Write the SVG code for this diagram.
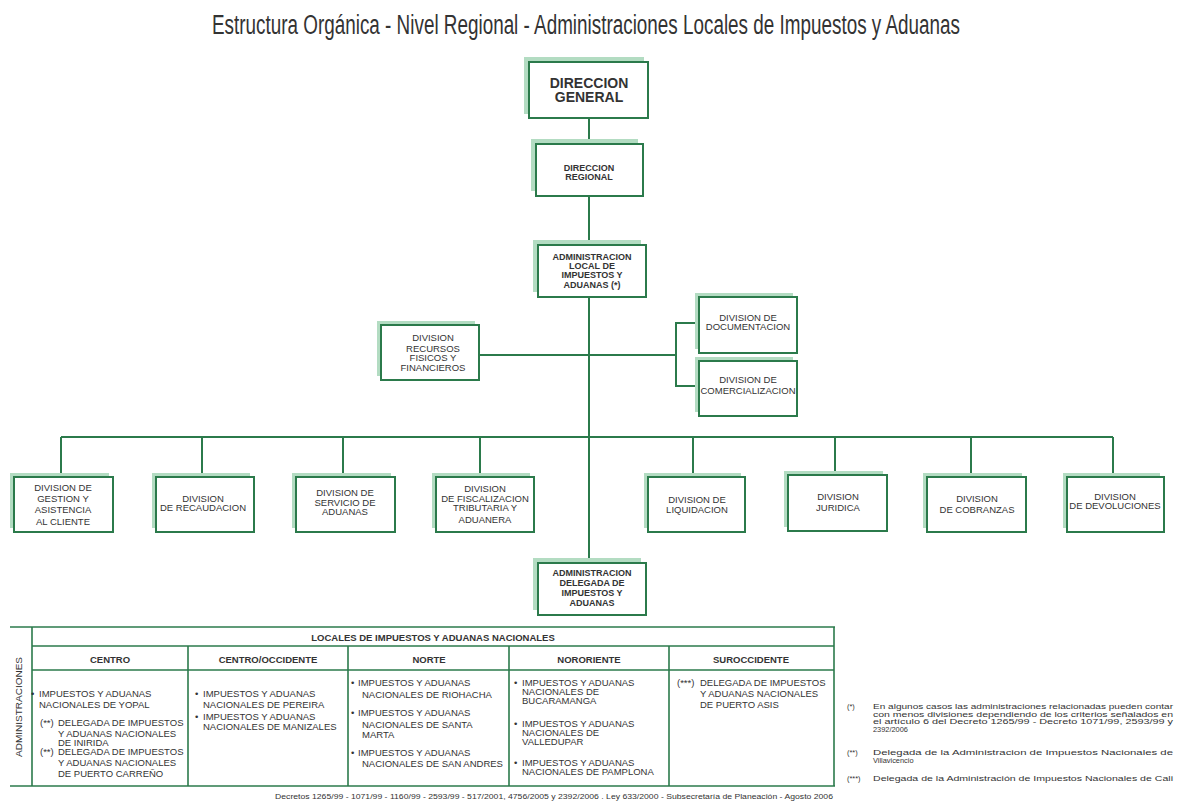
<svg xmlns="http://www.w3.org/2000/svg" width="1178" height="802" viewBox="0 0 1178 802">
<style>
.bg{fill:#ffffff}
.sh{fill:#b3dcc2}
.bx{fill:#ffffff;stroke:#2b7a4b;stroke-width:2}
.ln{stroke:#2b7a4b;stroke-width:2;fill:none}
.lt{stroke:#2b7a4b;stroke-width:1.6;fill:none}
.t{font-family:"Liberation Sans",Arial,sans-serif;fill:#333;text-anchor:middle}
.nb{font-size:9px;font-weight:bold}
.nr{font-size:9.5px}
.tb{font-family:"Liberation Sans",Arial,sans-serif;fill:#333;font-size:9.5px}
.hd{font-family:"Liberation Sans",Arial,sans-serif;fill:#333;font-size:9.5px;font-weight:bold;text-anchor:middle}
.vt{font-family:"Liberation Sans",Arial,sans-serif;fill:#333;font-size:8.5px;text-anchor:middle}
.fn{font-family:"Liberation Sans",Arial,sans-serif;fill:#333;font-size:7.4px}
.ft{font-family:"Liberation Sans",Arial,sans-serif;fill:#333;font-size:7px}
</style>
<rect class="bg" x="0" y="0" width="1178" height="802"/>
<text transform="translate(586,34) scale(0.68,1)" x="0" y="0" font-family="'Liberation Sans',Arial,sans-serif" font-size="27" fill="#333" text-anchor="middle" textLength="1100" lengthAdjust="spacingAndGlyphs">Estructura Orgánica - Nivel Regional - Administraciones Locales de Impuestos y Aduanas</text>

<g id="connectors">
<line class="ln" x1="589" y1="118" x2="589" y2="144"/>
<line class="ln" x1="589" y1="196" x2="589" y2="245"/>
<line class="ln" x1="589" y1="297" x2="589" y2="563"/>
<line class="ln" x1="479" y1="355" x2="676" y2="355"/>
<polyline class="ln" points="699,323 676,323 676,386 699,386"/>
<line class="ln" x1="61" y1="437" x2="1113" y2="437"/>
<line class="ln" x1="61" y1="437" x2="61" y2="477"/>
<line class="ln" x1="202" y1="437" x2="202" y2="477"/>
<line class="ln" x1="343" y1="437" x2="343" y2="477"/>
<line class="ln" x1="480" y1="437" x2="480" y2="477"/>
<line class="ln" x1="693" y1="437" x2="693" y2="477"/>
<line class="ln" x1="835" y1="437" x2="835" y2="475"/>
<line class="ln" x1="971" y1="437" x2="971" y2="477"/>
<line class="ln" x1="1113" y1="437" x2="1113" y2="477"/>
</g>

<g id="dir-general">
<rect class="sh" x="524" y="57" width="120" height="57"/>
<rect class="bx" x="529" y="62" width="119" height="56"/>
<text class="t" x="589" y="88" font-size="14" font-weight="bold">DIRECCION</text>
<text class="t" x="589" y="102" font-size="14" font-weight="bold">GENERAL</text>
</g>
<g id="dir-regional">
<rect class="sh" x="531" y="139" width="107" height="52"/>
<rect class="bx" x="536" y="144" width="107" height="52"/>
<text class="t nb" x="589" y="171">DIRECCION</text>
<text class="t nb" x="589" y="180">REGIONAL</text>
</g>
<g id="adm-local">
<rect class="sh" x="533" y="240" width="108" height="52"/>
<rect class="bx" x="538" y="245" width="108" height="52"/>
<text class="t nb" x="592" y="260">ADMINISTRACION</text>
<text class="t nb" x="592" y="269">LOCAL DE</text>
<text class="t nb" x="592" y="278">IMPUESTOS Y</text>
<text class="t nb" x="592" y="288">ADUANAS (*)</text>
</g>
<g id="div-recursos">
<rect class="sh" x="377" y="321" width="98" height="55"/>
<rect class="bx" x="381" y="325" width="98" height="55"/>
<text class="t nr" x="433" y="341">DIVISION</text>
<text class="t nr" x="433" y="352">RECURSOS</text>
<text class="t nr" x="433" y="361">FISICOS Y</text>
<text class="t nr" x="433" y="371">FINANCIEROS</text>
</g>
<g id="div-documentacion">
<rect class="sh" x="695" y="293" width="98" height="56"/>
<rect class="bx" x="699" y="297" width="98" height="56"/>
<text class="t nr" x="748" y="321">DIVISION DE</text>
<text class="t nr" x="748" y="330">DOCUMENTACION</text>
</g>
<g id="div-comercializacion">
<rect class="sh" x="695" y="357" width="98" height="55"/>
<rect class="bx" x="699" y="361" width="98" height="55"/>
<text class="t nr" x="748" y="383">DIVISION DE</text>
<text class="t nr" x="748" y="394">COMERCIALIZACION</text>
</g>

<g id="div-gestion">
<rect class="sh" x="10" y="473" width="99" height="55"/>
<rect class="bx" x="14" y="477" width="99" height="55"/>
<text class="t nr" x="63" y="491">DIVISION DE</text>
<text class="t nr" x="63" y="502">GESTION Y</text>
<text class="t nr" x="63" y="513">ASISTENCIA</text>
<text class="t nr" x="63" y="525">AL CLIENTE</text>
</g>
<g id="div-recaudacion">
<rect class="sh" x="152" y="473" width="98" height="55"/>
<rect class="bx" x="156" y="477" width="98" height="55"/>
<text class="t nr" x="203" y="502">DIVISION</text>
<text class="t nr" x="203" y="511">DE RECAUDACION</text>
</g>
<g id="div-servicio">
<rect class="sh" x="292" y="473" width="99" height="55"/>
<rect class="bx" x="296" y="477" width="99" height="55"/>
<text class="t nr" x="345" y="496">DIVISION DE</text>
<text class="t nr" x="345" y="506">SERVICIO DE</text>
<text class="t nr" x="345" y="515">ADUANAS</text>
</g>
<g id="div-fiscalizacion">
<rect class="sh" x="432" y="473" width="98" height="55"/>
<rect class="bx" x="436" y="477" width="98" height="55"/>
<text class="t nr" x="485" y="492">DIVISION</text>
<text class="t nr" x="485" y="502">DE FISCALIZACION</text>
<text class="t nr" x="485" y="511">TRIBUTARIA Y</text>
<text class="t nr" x="485" y="523">ADUANERA</text>
</g>
<g id="div-liquidacion">
<rect class="sh" x="644" y="473" width="97" height="55"/>
<rect class="bx" x="648" y="477" width="97" height="55"/>
<text class="t nr" x="697" y="503">DIVISION DE</text>
<text class="t nr" x="697" y="513">LIQUIDACION</text>
</g>
<g id="div-juridica">
<rect class="sh" x="784" y="471" width="99" height="56"/>
<rect class="bx" x="788" y="475" width="99" height="56"/>
<text class="t nr" x="838" y="500">DIVISION</text>
<text class="t nr" x="838" y="511">JURIDICA</text>
</g>
<g id="div-cobranzas">
<rect class="sh" x="923" y="473" width="99" height="55"/>
<rect class="bx" x="927" y="477" width="99" height="55"/>
<text class="t nr" x="977" y="502">DIVISION</text>
<text class="t nr" x="977" y="513">DE COBRANZAS</text>
</g>
<g id="div-devoluciones">
<rect class="sh" x="1063" y="473" width="97" height="55"/>
<rect class="bx" x="1067" y="477" width="97" height="55"/>
<text class="t nr" x="1115" y="500">DIVISION</text>
<text class="t nr" x="1115" y="509">DE DEVOLUCIONES</text>
</g>

<g id="adm-delegada">
<rect class="sh" x="533" y="558" width="108" height="52"/>
<rect class="bx" x="538" y="563" width="108" height="52"/>
<text class="t nb" x="592" y="576">ADMINISTRACION</text>
<text class="t nb" x="592" y="586">DELEGADA DE</text>
<text class="t nb" x="592" y="596">IMPUESTOS Y</text>
<text class="t nb" x="592" y="606">ADUANAS</text>
</g>

<g id="table">
<line class="lt" x1="10" y1="627" x2="835" y2="627"/>
<line class="lt" x1="10" y1="786" x2="835" y2="786"/>
<line class="lt" x1="32" y1="627" x2="32" y2="786"/>
<line class="lt" x1="834" y1="627" x2="834" y2="786"/>
<line class="lt" x1="32" y1="646" x2="834" y2="646"/>
<line class="lt" x1="32" y1="670" x2="834" y2="670"/>
<line class="lt" x1="188" y1="646" x2="188" y2="786"/>
<line class="lt" x1="348" y1="646" x2="348" y2="786"/>
<line class="lt" x1="509" y1="646" x2="509" y2="786"/>
<line class="lt" x1="669" y1="646" x2="669" y2="786"/>
<text class="vt" x="22" y="707" transform="rotate(-90 22 707)" textLength="100" lengthAdjust="spacingAndGlyphs">ADMINISTRACIONES</text>
<text class="hd" x="433" y="641">LOCALES DE IMPUESTOS Y ADUANAS NACIONALES</text>
<text class="hd" x="110" y="663">CENTRO</text>
<text class="hd" x="268" y="663">CENTRO/OCCIDENTE</text>
<text class="hd" x="429" y="663">NORTE</text>
<text class="hd" x="589" y="663">NORORIENTE</text>
<text class="hd" x="751" y="663">SUROCCIDENTE</text>

<text class="tb" x="31" y="697">•</text>
<text class="tb" x="39" y="697">IMPUESTOS  Y ADUANAS</text>
<text class="tb" x="39" y="708">NACIONALES DE YOPAL</text>
<text class="tb" x="40" y="726">(**)</text>
<text class="tb" x="58" y="726">DELEGADA DE IMPUESTOS</text>
<text class="tb" x="58" y="737">Y ADUANAS NACIONALES</text>
<text class="tb" x="58" y="746">DE INIRIDA</text>
<text class="tb" x="40" y="755">(**)</text>
<text class="tb" x="58" y="755">DELEGADA DE IMPUESTOS</text>
<text class="tb" x="58" y="766">Y ADUANAS NACIONALES</text>
<text class="tb" x="58" y="777">DE PUERTO CARREÑO</text>

<text class="tb" x="195" y="697">•</text>
<text class="tb" x="203" y="697">IMPUESTOS  Y ADUANAS</text>
<text class="tb" x="203" y="708">NACIONALES DE PEREIRA</text>
<text class="tb" x="195" y="720">•</text>
<text class="tb" x="203" y="720">IMPUESTOS  Y ADUANAS</text>
<text class="tb" x="203" y="730">NACIONALES DE  MANIZALES</text>

<text class="tb" x="351" y="686">•</text>
<text class="tb" x="358" y="686">IMPUESTOS Y ADUANAS</text>
<text class="tb" x="362" y="698">NACIONALES DE RIOHACHA</text>
<text class="tb" x="351" y="716">•</text>
<text class="tb" x="358" y="716">IMPUESTOS Y ADUANAS</text>
<text class="tb" x="362" y="728">NACIONALES DE SANTA</text>
<text class="tb" x="362" y="738">MARTA</text>
<text class="tb" x="351" y="756">•</text>
<text class="tb" x="358" y="756">IMPUESTOS Y ADUANAS</text>
<text class="tb" x="362" y="767">NACIONALES DE SAN ANDRES</text>

<text class="tb" x="514" y="686">•</text>
<text class="tb" x="522" y="686">IMPUESTOS Y ADUANAS</text>
<text class="tb" x="522" y="695">NACIONALES DE</text>
<text class="tb" x="522" y="704">BUCARAMANGA</text>
<text class="tb" x="514" y="727">•</text>
<text class="tb" x="522" y="727">IMPUESTOS Y ADUANAS</text>
<text class="tb" x="522" y="736">NACIONALES DE</text>
<text class="tb" x="522" y="745">VALLEDUPAR</text>
<text class="tb" x="514" y="766">•</text>
<text class="tb" x="522" y="766">IMPUESTOS Y ADUANAS</text>
<text class="tb" x="522" y="775">NACIONALES DE PAMPLONA</text>

<text class="tb" x="677" y="686">(***)</text>
<text class="tb" x="700" y="686">DELEGADA DE IMPUESTOS</text>
<text class="tb" x="700" y="697">Y ADUANAS  NACIONALES</text>
<text class="tb" x="700" y="708">DE PUERTO  ASIS</text>
</g>

<text class="ft" x="275" y="799" textLength="558" lengthAdjust="spacingAndGlyphs">Decretos 1265/99  -  1071/99  -  1160/99  -  2593/99  -  517/2001, 4756/2005 y 2392/2006 .  Ley 633/2000  -   Subsecretaría de Planeación - Agosto 2006</text>

<g id="footnotes">
<text class="fn" x="847" y="709">(*)</text>
<text class="fn" x="873" y="709" textLength="300" lengthAdjust="spacingAndGlyphs">En algunos casos las administraciones relacionadas pueden contar</text>
<text class="fn" x="873" y="716.5" textLength="300" lengthAdjust="spacingAndGlyphs">con menos divisiones dependiendo de los criterios señalados en</text>
<text class="fn" x="873" y="724" textLength="300" lengthAdjust="spacingAndGlyphs">el  artículo 6 del Decreto 1265/99 - Decreto 1071/99, 2593/99 y</text>
<text class="fn" x="873" y="731.5">2392/2006</text>
<text class="fn" x="847" y="755">(**)</text>
<text class="fn" x="873" y="755" textLength="300" lengthAdjust="spacingAndGlyphs">Delegada de la Administracion de Impuestos Nacionales de</text>
<text class="fn" x="873" y="762.5">Villavicencio</text>
<text class="fn" x="847" y="781">(***)</text>
<text class="fn" x="873" y="781" textLength="300" lengthAdjust="spacingAndGlyphs">Delegada de la Administración de Impuestos Nacionales de Cali</text>
</g>
</svg>
